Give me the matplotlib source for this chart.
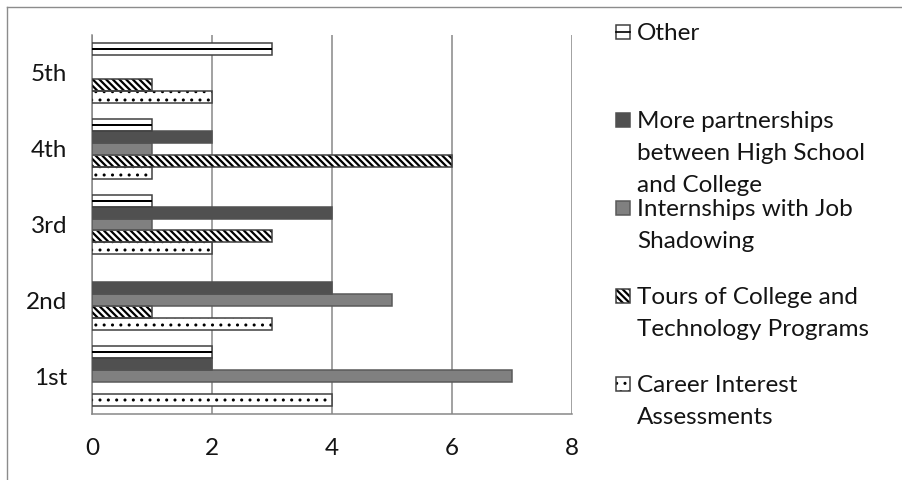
import matplotlib
matplotlib.use('Agg')
import matplotlib.pyplot as plt
from matplotlib.patches import Rectangle
from matplotlib.lines import Line2D
import numpy as np

# ---------------- data ----------------
categories = ['1st', '2nd', '3rd', '4th', '5th']
career = [4, 3, 2, 1, 2]
tours = [0, 1, 3, 6, 1]
internships = [7, 5, 1, 1, 0]
partnerships = [2, 4, 4, 2, 0]
other = [2, 0, 1, 1, 3]
series_labels = ['Career Interest\nAssessments',
                 'Tours of College and\nTechnology Programs',
                 'Internships with Job\nShadowing',
                 'More partnerships\nbetween High School\nand College',
                 'Other']
x_ticks = [0, 2, 4, 6, 8]

# ---------------- styles ----------------
plt.rcParams['font.family'] = ['Lato', 'DejaVu Sans']
FS = 17.5
TXT = '#141414'
GRID = '#878787'
EDGE = '#404040'
styles = [
    dict(face='white', hatch='..', hatch_lw=1.0, edge=EDGE, midline=False),
    dict(face='white', hatch='\\\\\\\\\\', hatch_lw=1.6, edge=EDGE, midline=False),
    dict(face='#808080', hatch=None, hatch_lw=1.0, edge='#5a5a5a', midline=False),
    dict(face='#505050', hatch=None, hatch_lw=1.0, edge='#505050', midline=False),
    dict(face='white', hatch=None, hatch_lw=1.0, edge=EDGE, midline=True),
]
series = [career, tours, internships, partnerships, other]

W, H = 903, 480
fig = plt.figure(figsize=(W / 100, H / 100), dpi=100)
ax = fig.add_axes([92 / W, 66 / H, 480 / W, 379 / H])

y = np.arange(len(categories))
bh = 0.158
n = len(series)


def hatched_barh(axis, ypos, vals, st, height):
    if st['hatch']:
        with plt.rc_context({'hatch.linewidth': st['hatch_lw']}):
            bars = axis.barh(ypos, vals, height=height, color=st['face'],
                             edgecolor='black', linewidth=0, hatch=st['hatch'], zorder=3)
            for b in bars:
                if hasattr(b, 'set_hatch_linewidth'):
                    b.set_hatch_linewidth(st['hatch_lw'])
    else:
        axis.barh(ypos, vals, height=height, color=st['face'], linewidth=0, zorder=3)
    axis.barh(ypos, vals, height=height, fill=False, edgecolor=st['edge'],
              linewidth=1.1, zorder=4)
    if st['midline']:
        axis.barh(ypos, vals, height=height * 0.17, color='black', linewidth=0, zorder=5)


for i, (vals, st) in enumerate(zip(series, styles)):
    offs = (i - (n - 1) / 2) * bh
    v = np.array(vals, dtype=float)
    mask = v > 0
    hatched_barh(ax, y[mask] + offs, v[mask], st, bh)

ax.set_xlim(0, 8)
ax.set_ylim(-0.5, len(categories) - 0.5)
ax.set_xticks(x_ticks)
ax.set_xticklabels([str(t) for t in x_ticks])
ax.set_yticks(y)
ax.set_yticklabels(categories)
ax.tick_params(axis='both', length=0, labelsize=FS, colors=TXT)
ax.tick_params(axis='y', pad=18)
ax.tick_params(axis='x', pad=17.5)
ax.xaxis.grid(True, color=GRID, linewidth=1.1, zorder=0)
ax.set_axisbelow(True)
for s in ['top', 'right']:
    ax.spines[s].set_visible(False)
for s in ['left', 'bottom']:
    ax.spines[s].set_color(GRID)
    ax.spines[s].set_linewidth(1.1)
    ax.spines[s].set_zorder(2)

# ---------------- legend (manual) ----------------
order = [4, 3, 2, 1, 0]
first_y = 32
entry_step = 88
line_step = 32
for k, idx in enumerate(order):
    st = styles[idx]
    cy = first_y + entry_step * k
    rx, rs = 616, 14
    rect_kw = dict(transform=fig.transFigure)
    if st['hatch']:
        with plt.rc_context({'hatch.linewidth': st['hatch_lw']}):
            r = Rectangle((rx / W, 1 - (cy + rs / 2) / H), rs / W, rs / H,
                          facecolor=st['face'], edgecolor='black', linewidth=0,
                          hatch=st['hatch'], **rect_kw)
            if hasattr(r, 'set_hatch_linewidth'):
                r.set_hatch_linewidth(st['hatch_lw'])
        fig.add_artist(r)
    else:
        fig.add_artist(Rectangle((rx / W, 1 - (cy + rs / 2) / H), rs / W, rs / H,
                                 facecolor=st['face'], linewidth=0, **rect_kw))
    fig.add_artist(Rectangle((rx / W, 1 - (cy + rs / 2) / H), rs / W, rs / H,
                             fill=False, edgecolor=st['edge'], linewidth=1.1, **rect_kw))
    if st['midline']:
        fig.add_artist(Line2D([rx / W, (rx + rs) / W], [1 - cy / H] * 2,
                              color='black', linewidth=1.2))
    for j, line in enumerate(series_labels[idx].split('\n')):
        fig.text(637 / W, 1 - (cy + line_step * j + 8) / H, line, fontsize=FS,
                 color=TXT, ha='left', va='baseline')

# ---------------- outer frame ----------------
fig.add_artist(Line2D([7 / W, 1], [1 - 7 / H] * 2, color='#8c8c8c', linewidth=1.0))
fig.add_artist(Line2D([7 / W, 7 / W], [0, 1 - 7 / H], color='#8c8c8c', linewidth=1.0))

fig.savefig('out.png', dpi=100)
